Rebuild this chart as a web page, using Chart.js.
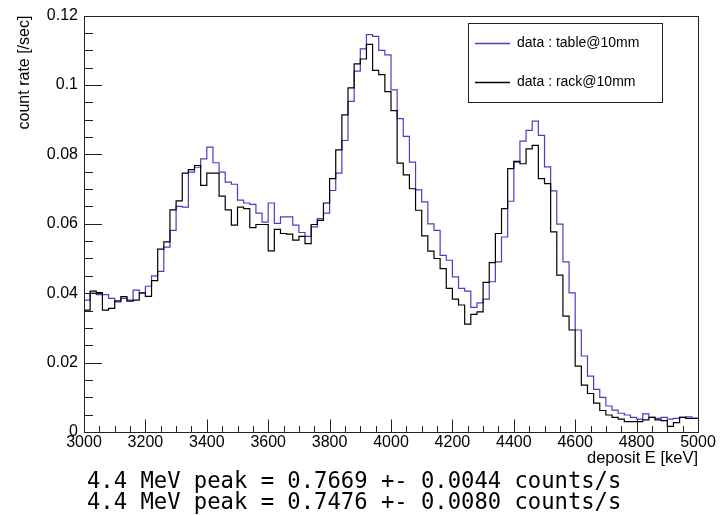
<!DOCTYPE html>
<html>
<head>
<meta charset="utf-8">
<script src="https://cdn.jsdelivr.net/npm/chart.js@4.4.1/dist/chart.umd.min.js"></script>
<style>
  html, body { margin: 0; padding: 0; background: #fff; }
  #wrap { position: relative; width: 724px; height: 515px; }
  #grafico { position: absolute; left: 0; top: 0; }
  .peak {
    position: absolute; left: 87px;
    font-family: "DejaVu Sans Mono", monospace; font-size: 22.2px;
    line-height: 21px; color: #000; white-space: pre;
  }
</style>
</head>
<body>
<div id="wrap">
  <canvas id="grafico" width="724" height="515"></canvas>
  <div class="peak" style="top:470px">4.4 MeV peak = 0.7669 +- 0.0044 counts/s</div>
  <div class="peak" style="top:491px">4.4 MeV peak = 0.7476 +- 0.0080 counts/s</div>
</div>
<script>
// Histograma: 100 bins de 20 keV entre 3000 y 5000 keV
var E_MIN = 3000;
var E_MAX = 5000;
var BIN_W = 20;

// Tasa de conteo por bin
var tabla = [
  0.0380, 0.0400, 0.0396, 0.0396, 0.0385, 0.0375, 0.0385, 0.0380, 0.0409, 0.0402,
  0.0420, 0.0450, 0.0463, 0.0533, 0.0581, 0.0650, 0.0648, 0.0749, 0.0763, 0.0787,
  0.0821, 0.0776, 0.0749, 0.0720, 0.0714, 0.0668, 0.0660, 0.0656, 0.0631, 0.0605,
  0.0660, 0.0601, 0.0620, 0.0620, 0.0596, 0.0575, 0.0564, 0.0591, 0.0615, 0.0631,
  0.0696, 0.0746, 0.0840, 0.0953, 0.1040, 0.1104, 0.1145, 0.1140, 0.1100, 0.1087,
  0.0986, 0.0903, 0.0852, 0.0778, 0.0698, 0.0663, 0.0600, 0.0581, 0.0509, 0.0495,
  0.0447, 0.0414, 0.0406, 0.0359, 0.0372, 0.0383, 0.0433, 0.0490, 0.0562, 0.0665,
  0.0778, 0.0838, 0.0869, 0.0896, 0.0855, 0.0764, 0.0695, 0.0599, 0.0490, 0.0401,
  0.0294, 0.0219, 0.0161, 0.0123, 0.0100, 0.0075, 0.0063, 0.0054, 0.0049, 0.0042,
  0.0037, 0.0052, 0.0042, 0.0039, 0.0042, 0.0037, 0.0039, 0.0042, 0.0044, 0.0039
];

var rack = [
  0.0351, 0.0406, 0.0402, 0.0351, 0.0356, 0.0378, 0.0390, 0.0377, 0.0380, 0.0400,
  0.0391, 0.0436, 0.0527, 0.0548, 0.0640, 0.0666, 0.0746, 0.0756, 0.0768, 0.0711,
  0.0746, 0.0746, 0.0680, 0.0640, 0.0596, 0.0648, 0.0644, 0.0589, 0.0598, 0.0598,
  0.0522, 0.0584, 0.0572, 0.0570, 0.0553, 0.0564, 0.0543, 0.0598, 0.0610, 0.0660,
  0.0730, 0.0813, 0.0914, 0.0992, 0.1061, 0.1075, 0.1117, 0.1042, 0.1030, 0.0981,
  0.0926, 0.0775, 0.0741, 0.0701, 0.0639, 0.0565, 0.0521, 0.0500, 0.0471, 0.0414,
  0.0383, 0.0366, 0.0311, 0.0339, 0.0346, 0.0431, 0.0488, 0.0572, 0.0644, 0.0759,
  0.0780, 0.0773, 0.0816, 0.0826, 0.0730, 0.0716, 0.0577, 0.0452, 0.0334, 0.0294,
  0.0190, 0.0135, 0.0111, 0.0083, 0.0062, 0.0049, 0.0042, 0.0037, 0.0030, 0.0030,
  0.0030, 0.0035, 0.0042, 0.0035, 0.0033, 0.0016, 0.0027, 0.0042, 0.0039, 0.0039
];

var etiquetas = ["data : table@10mm", "data : rack@10mm"];
var colores = ["#5438c4", "#000000"];

// Borde izquierdo de cada bin
var bordes = [];
for (var i = 0; i < tabla.length; i++) bordes.push(E_MIN + i * BIN_W);

// Puntos para dibujar el histograma como escalones
function puntos(valores) {
    var p = bordes.map(function (x, i) { return { x: x, y: valores[i] }; });
    p.push({ x: E_MAX, y: valores[valores.length - 1] });
    return p;
}

// Marco, marcas de eje (hacia dentro, como ROOT) y leyenda
var estiloRoot = {
    id: "estiloRoot",
    afterDatasetsDraw: function (chart) {
        var ctx = chart.ctx;
        var a = chart.chartArea;
        var sx = chart.scales.x, sy = chart.scales.y;
        ctx.save();
        ctx.strokeStyle = "#222";
        ctx.lineWidth = 1;
        ctx.beginPath();
        // marcas eje X: cada 50 keV, mayores cada 200
        for (var e = E_MIN; e <= E_MAX; e += 50) {
            var px = Math.round(sx.getPixelForValue(e)) + 0.5;
            var len = (e % 200 === 0) ? 12.5 : 6;
            ctx.moveTo(px, a.bottom);
            ctx.lineTo(px, a.bottom - len);
        }
        // marcas eje Y: cada 0.005, mayores cada 0.02
        for (var k = 0; k <= 24; k++) {
            var py = Math.round(sy.getPixelForValue(k * 0.005)) + 0.5;
            var ly = (k % 4 === 0) ? 18 : 9;
            ctx.moveTo(a.left, py);
            ctx.lineTo(a.left + ly, py);
        }
        ctx.stroke();
        ctx.strokeRect(Math.round(a.left) + 0.5, Math.round(a.top) + 0.5,
            Math.round(a.right - a.left), Math.round(a.bottom - a.top));

        // leyenda
        ctx.fillStyle = "#fff";
        ctx.fillRect(468, 23, 194, 79);
        ctx.strokeStyle = "#222";
        ctx.strokeRect(468.5, 23.5, 194, 79);
        ctx.font = "14px 'Liberation Sans', Arial, sans-serif";
        ctx.textBaseline = "middle";
        ctx.textAlign = "left";
        var filas = [43, 82];
        for (var j = 0; j < etiquetas.length; j++) {
            ctx.strokeStyle = colores[j];
            ctx.lineWidth = 1.3;
            ctx.beginPath();
            ctx.moveTo(475, filas[j] + 0.5);
            ctx.lineTo(510, filas[j] + 0.5);
            ctx.stroke();
            ctx.fillStyle = "#000";
            ctx.fillText(etiquetas[j], 517, filas[j]);
        }
        ctx.restore();
    }
};

function cargaHistograma() {
    var fuente = { family: "'Liberation Sans', Arial, sans-serif", size: 16 };
    var datos = {
        datasets: [{
            label: etiquetas[0],
            data: puntos(tabla),
            borderColor: colores[0],
            borderWidth: 1.2,
            stepped: "before",
            pointRadius: 0,
            fill: false,
            order: 2
        }, {
            label: etiquetas[1],
            data: puntos(rack),
            borderColor: colores[1],
            borderWidth: 1.2,
            stepped: "before",
            pointRadius: 0,
            fill: false,
            order: 1
        }]
    };

    var config = {
        type: "line",
        data: datos,
        options: {
            responsive: false,
            animation: false,
            events: [],
            layout: { padding: { left: 0, right: 26, top: 15, bottom: 47 } },
            plugins: {
                legend: { display: false },
                tooltip: { enabled: false }
            },
            scales: {
                x: {
                    type: "linear",
                    min: E_MIN,
                    max: E_MAX,
                    grid: { display: false, drawTicks: false },
                    border: { display: false },
                    ticks: {
                        stepSize: 200,
                        color: "#000",
                        font: fuente,
                        padding: 1,
                        maxRotation: 0,
                        autoSkip: false,
                        callback: function (v) { return String(v); }
                    },
                    title: {
                        display: true,
                        text: "deposit E [keV]",
                        align: "end",
                        color: "#000",
                        font: { family: fuente.family, size: 16.5 },
                        padding: { top: 0, bottom: 0 }
                    },
                    afterFit: function (scale) { scale.height = 36; }
                },
                y: {
                    min: 0,
                    max: 0.12,
                    grid: { display: false, drawTicks: false },
                    border: { display: false },
                    ticks: {
                        stepSize: 0.02,
                        color: "#000",
                        font: fuente,
                        padding: 6,
                        callback: function (v) { return String(Math.round(v * 100) / 100); }
                    },
                    title: {
                        display: true,
                        text: "count rate [/sec]",
                        align: "end",
                        color: "#000",
                        font: { family: fuente.family, size: 16 },
                        padding: { top: 15, bottom: 0 }
                    },
                    afterFit: function (scale) { scale.width = 84; }
                }
            }
        },
        plugins: [estiloRoot]
    };

    new Chart(document.getElementById("grafico").getContext("2d"), config);
}

cargaHistograma();
</script>
</body>
</html>
